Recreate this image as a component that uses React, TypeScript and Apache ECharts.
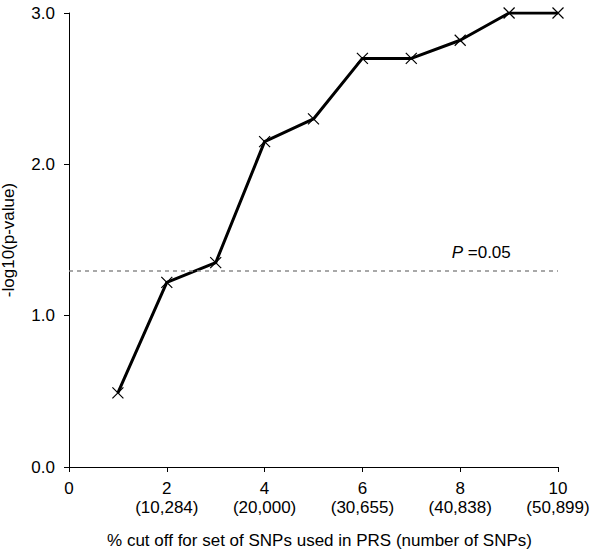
import React, { useEffect, useRef } from "react";
import * as echarts from "echarts";

const xValues = [1, 2, 3, 4, 5, 6, 7, 8, 9, 10];
const yValues = [0.49, 1.22, 1.35, 2.15, 2.3, 2.7, 2.7, 2.82, 3.0, 3.0];
const snpCounts: Record<number, string> = {
  2: "(10,284)",
  4: "(20,000)",
  6: "(30,655)",
  8: "(40,838)",
  10: "(50,899)",
};
const threshold = 1.301; // -log10(0.05)
const thresholdLabelX = 8.43;
const yTicks = [0, 1, 2, 3];

export default function App() {
  const ref = useRef<HTMLDivElement>(null);
  useEffect(() => {
    if (!ref.current) return;
    const chart = echarts.init(ref.current, undefined, { renderer: "svg" });
    const font = "'Liberation Sans', Arial, sans-serif";
    const fs = 17;
    chart.setOption({
      animation: false,
      textStyle: { fontFamily: font },
      grid: {
        left: 69,
        right: 42,
        top: 13,
        bottom: 89,
        containLabel: false,
        outerBoundsMode: "none",
      },
      xAxis: {
        type: "value",
        min: 0,
        max: 10,
        interval: 2,
        name: "% cut off for set of SNPs used in PRS (number of SNPs)",
        nameLocation: "middle",
        nameGap: 65,
        nameTextStyle: { fontSize: fs, color: "#000", fontFamily: font, padding: [0, 0, 0, 12] },
        axisLine: { lineStyle: { color: "#000", width: 1 } },
        axisTick: { show: true, inside: false, length: 5, lineStyle: { color: "#000" } },
        splitLine: { show: false },
        axisLabel: {
          margin: 12,
          fontSize: fs,
          color: "#000",
          lineHeight: 19,
          fontFamily: font,
          formatter: (v: number) => (snpCounts[v] ? `${v}\n${snpCounts[v]}` : `${v}`),
        },
      },
      yAxis: {
        type: "value",
        min: yTicks[0],
        max: yTicks[yTicks.length - 1],
        interval: 1,
        name: "-log10(p-value)",
        nameLocation: "middle",
        nameGap: 52,
        nameRotate: 90,
        nameTextStyle: { fontSize: fs, color: "#000", fontFamily: font },
        axisLine: { show: true, lineStyle: { color: "#000", width: 1 } },
        axisTick: { show: true, inside: false, length: 5, lineStyle: { color: "#000" } },
        splitLine: { show: false },
        axisLabel: {
          margin: 14,
          fontSize: fs,
          color: "#000",
          fontFamily: font,
          formatter: (v: number) => v.toFixed(1),
        },
      },
      series: [
        {
          type: "line",
          data: xValues.map((x, i) => [x, yValues[i]]),
          lineStyle: { color: "#000", width: 3 },
          symbol: "path://M0,0L10,10M10,0L0,10",
          symbolSize: 11,
          showSymbol: true,
          itemStyle: { color: "none", borderColor: "#000", borderWidth: 1.2 },
          z: 3,
          markLine: {
            silent: true,
            symbol: "none",
            label: { show: false },
            lineStyle: { color: "#8c8c8c", type: [4, 4], width: 1.5 },
            data: [{ yAxis: threshold }],
          },
          markPoint: {
            silent: true,
            symbol: "circle",
            symbolSize: 0,
            data: [{ coord: [thresholdLabelX, threshold] }],
            label: {
              show: true,
              position: "top",
              distance: 9,
              formatter: "{i|P}{n| =0.05}",
              rich: {
                i: { fontStyle: "italic", fontSize: fs, color: "#000", fontFamily: font },
                n: { fontSize: fs, color: "#000", fontFamily: font },
              },
            },
          },
        },
      ],
    });
    return () => chart.dispose();
  }, []);
  return (
    <div
      ref={ref}
      style={{ position: "fixed", left: 0, top: 0, width: 600, height: 556, background: "#fff" }}
    />
  );
}
